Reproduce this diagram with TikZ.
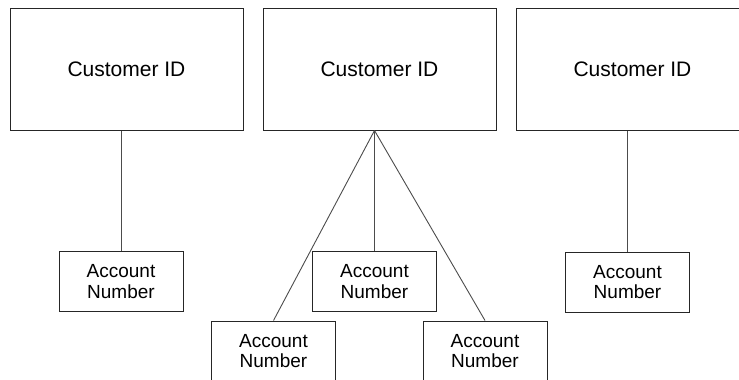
\documentclass[tikz,border=0pt]{standalone}
\usepackage{fontspec}
\setmainfont{Liberation Sans}
\usetikzlibrary{positioning}

\begin{document}
\begin{tikzpicture}[x=1pt, y=-1pt,
    cust/.style = {draw=black!85, line width=1pt, rectangle, inner sep=0pt,
                   minimum width=233pt, minimum height=122pt,
                   font=\fontsize{21}{24}\selectfont},
    acct/.style = {draw=black!85, line width=1pt, rectangle, inner sep=0pt,
                   minimum width=124pt, minimum height=60pt, align=center,
                   font=\fontsize{19}{20.5}\selectfont},
    link/.style = {draw=black!70, line width=0.9pt}]
      \useasboundingbox (0,0) rectangle (739,380);

      \node[cust] (c1) at (126.5,69)  {Customer ID};
      \node[cust] (c2) at (379.5,69)  {Customer ID};
      \node[cust] (c3) at (632.5,69)  {Customer ID};

      \node[acct] (a1) at (121,281.5)   {Account\\Number};
      \node[acct] (a2) at (374.5,281.5) {Account\\Number};
      \node[acct] (a3) at (627.5,282)   {Account\\Number};
      \node[acct] (a4) at (273.5,351)   {Account\\Number};
      \node[acct] (a5) at (485,351)     {Account\\Number};

      \coordinate (top) at (a2.north |- c2.south);

      \path[link]
      (a1.north) edge (a1.north |- c1.south)
      (a3.north) edge (a3.north |- c3.south)
      (a2.north) edge (top)
      (a4.north) edge (top)
      (a5.north) edge (top);
\end{tikzpicture}
\end{document}
